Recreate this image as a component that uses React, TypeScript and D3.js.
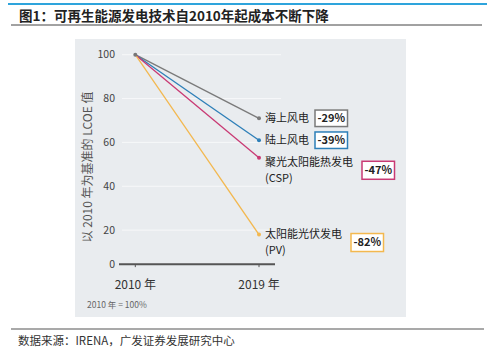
import React from "react";
import * as d3 from "d3";

const years = ["2010", "2019"];
const yearLabels = ["2010 年", "2019 年"];
const seriesNames = ["海上风电", "陆上风电", "聚光太阳能热发电", "太阳能光伏发电"];
const seriesSubNames = ["", "", "(CSP)", "(PV)"];
const values2010 = [100, 100, 100, 100];
const values2019 = [71, 61, 53, 18];
const changeLabels = ["-29%", "-39%", "-47%", "-82%"];
const yTicks = [0, 20, 40, 60, 80, 100];

const colors = ["#7a7a7a", "#2d7fb8", "#c93a74", "#f3b84f"];
const W = 487;
const H = 355;
const FONT = "'Noto Sans CJK SC', 'Noto Sans', sans-serif";
const AXIS_FLOOR = 4.5; // baseline drawn slightly above zero as in the source
const labelDy = [0, 0, 4.5, 0];
const labelFs = 11;
const lineGap = 16;

export default function App() {
  const x = d3.scalePoint<string>().domain(years).range([135.3, 259]);
  const y = d3.scaleLinear().domain([0, 100]).range([274, 54.7]);
  const baseY = y(AXIS_FLOOR);
  const line = d3
    .line<[number, number]>()
    .x((d) => d[0])
    .y((d) => d[1]);

  return (
    <div style={{ position: "fixed", left: 0, top: 0 }}>
      <svg width={W} height={H} style={{ display: "block", background: "#fff" }} fontFamily={FONT}>
        <line x1={8} x2={487} y1={4} y2={4} stroke="#2ea4dc" strokeWidth={2} />
        <text x={19} y={21} fontSize={13.5} fontWeight="bold" fill="#222">
          图1：可再生能源发电技术自2010年起成本不断下降
        </text>
        <line x1={11} x2={482} y1={25} y2={25} stroke="#444" strokeWidth={1} />

        <rect x={75} y={39} width={331} height={278} fill="#e9ecef" />

        {yTicks
          .filter((t) => t > 0)
          .map((t) => (
            <line key={t} x1={122} x2={281} y1={y(t)} y2={y(t)} stroke="#f7f8f9" strokeWidth={1} />
          ))}

        {yTicks.map((t) => (
          <text
            key={t}
            x={115}
            y={t === 0 ? baseY : y(t)}
            dy="0.35em"
            textAnchor="end"
            fontSize={10.5}
            fill="#444"
          >
            {t}
          </text>
        ))}

        <text
          transform={`translate(92,${167}) rotate(-90)`}
          textAnchor="middle"
          fontSize={12}
          fill="#555"
        >
          以 2010 年为基准的 LCOE 值
        </text>

        <line x1={119} x2={275} y1={baseY} y2={baseY} stroke="#555" strokeWidth={2} />
        {years.map((yr, i) => (
          <g key={yr}>
            <line x1={x(yr)} x2={x(yr)} y1={baseY} y2={baseY + 3} stroke="#555" strokeWidth={1} />
            <text x={x(yr)} y={289} textAnchor="middle" fontSize={12} fill="#333">
              {yearLabels[i]}
            </text>
          </g>
        ))}

        {seriesNames.map((name, i) => {
          const p0: [number, number] = [x(years[0])!, y(values2010[i])];
          const p1: [number, number] = [x(years[1])!, y(values2019[i])];
          return (
            <path key={name} d={line([p0, p1])!} fill="none" stroke={colors[i]} strokeWidth={1.3} />
          );
        })}
        <circle cx={x(years[0])} cy={y(100)} r={2} fill="#777" />

        {seriesNames.map((name, i) => {
          const px = x(years[1])!;
          const py = y(values2019[i]);
          const ly = py + labelDy[i];
          const two = seriesSubNames[i] !== "";
          const lx = px + 6;
          const boxX = lx + name.length * labelFs + (two ? 9 : 6);
          const boxW = 32.5;
          const boxH = two ? 18 : 16.5;
          const boxCy = two ? ly + lineGap / 2 : ly;
          return (
            <g key={name}>
              <circle cx={px} cy={py} r={2} fill={colors[i]} />
              <text x={lx} y={ly + labelFs * 0.35} fontSize={labelFs} fill="#222">
                <tspan x={lx}>{name}</tspan>
                {two && (
                  <tspan x={lx} dy={lineGap}>
                    {seriesSubNames[i]}
                  </tspan>
                )}
              </text>
              <rect
                x={boxX}
                y={boxCy - boxH / 2}
                width={boxW}
                height={boxH}
                fill="#fff"
                stroke={colors[i]}
                strokeWidth={1.5}
              />
              <text
                x={boxX + boxW / 2}
                y={boxCy}
                dy="0.35em"
                textAnchor="middle"
                fontSize={11}
                fontWeight="bold"
                fill="#222"
              >
                {changeLabels[i]}
              </text>
            </g>
          );
        })}

        <text x={87} y={308} fontSize={8.5} fill="#666">
          2010 年 = 100%
        </text>

        <line x1={11} x2={484} y1={329} y2={329} stroke="#555" strokeWidth={1.2} />
        <text x={18} y={345} fontSize={11.5} fill="#333">
          数据来源：IRENA，广发证券发展研究中心
        </text>
      </svg>
    </div>
  );
}
